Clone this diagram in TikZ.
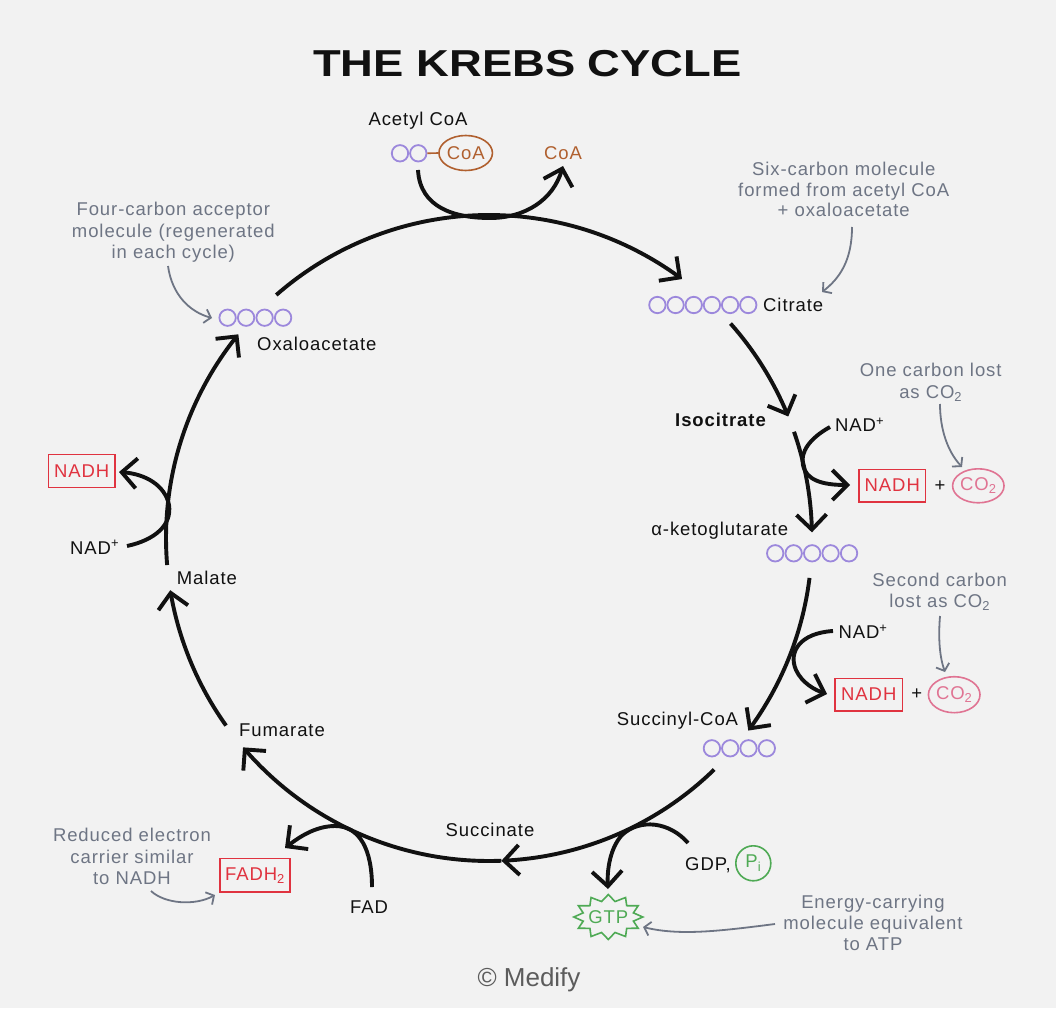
\documentclass[tikz,border=0pt]{standalone}
\usepackage{graphicx}
\usepackage{fontspec}
\setmainfont{Liberation Sans}[LetterSpace=5]
\newfontfamily\plainfont{Liberation Sans}
\usetikzlibrary{arrows.meta,shapes.geometric}
\definecolor{bg}{HTML}{F2F2F2}
\definecolor{ink}{HTML}{111111}
\definecolor{purp}{HTML}{9C88DC}
\definecolor{brownc}{HTML}{B0602F}
\definecolor{redc}{HTML}{E03340}
\definecolor{pinkc}{HTML}{E07493}
\definecolor{greenc}{HTML}{4FAA55}
\definecolor{grayc}{HTML}{6E7584}
\definecolor{copyc}{HTML}{5C5C5C}
\begin{document}
\begin{tikzpicture}[x=1pt,y=-1pt,
 lbl/.style={font=\fontsize{18.5}{21}\selectfont, text=ink, inner sep=0pt, anchor=base},
 glbl/.style={lbl, text=grayc},
 mol/.style={circle, draw=purp, line width=1.8pt, minimum size=16.4pt, inner sep=0pt},
 cyc/.style={draw=ink, line width=3.9pt, -{Straight Barb[length=15pt,width=30pt]}},
 garr/.style={draw=grayc, line width=1.8pt, -{Straight Barb[length=6pt,width=14pt]}},
 nbox/.style={rectangle, draw=redc, line width=1.6pt, text=redc, font=\fontsize{18.5}{21}\selectfont, inner sep=0pt, minimum height=32.4pt},
 co2/.style={ellipse, draw=pinkc, line width=1.6pt, text=pinkc, font=\fontsize{18.5}{21}\selectfont, inner sep=0pt, minimum width=50pt, minimum height=34pt}
]
\fill[bg] (0,0) rectangle (1056,1008);
\path[use as bounding box] (0,0) rectangle (1056,1008);

% title
\node[font=\plainfont\bfseries\fontsize{37.5}{40}\selectfont, text=ink, inner sep=0pt, anchor=base] (title) at (527.5,76.7) {\scalebox{1.21}[1]{THE KREBS CYCLE}};

% main cycle arcs (centre 489,538 radius 323)
\draw[cyc] plot[domain=-131.2:-53.3, samples=80] ({489+323*cos(\x)},{538+323*sin(\x)});
\draw[cyc] plot[domain=-41.6:-22.1, samples=30] ({489+323*cos(\x)},{538+323*sin(\x)});
\draw[cyc] plot[domain=-19.2:-1.0, samples=30] ({489+323*cos(\x)},{538+323*sin(\x)});
\draw[cyc] plot[domain=7.1:36.6, samples=40] ({489+323*cos(\x)},{538+323*sin(\x)});
\draw[cyc] plot[domain=45.8:87.8, samples=50] ({489+323*cos(\x)},{538+323*sin(\x)});
\draw[cyc] plot[domain=87.8:139.6, samples=60] ({489+323*cos(\x)},{538+323*sin(\x)});
\draw[cyc] plot[domain=144.5:170.7, samples=40] ({489+323*cos(\x)},{538+323*sin(\x)});
\draw[cyc] plot[domain=175.2:219.1, samples=50] ({489+323*cos(\x)},{538+323*sin(\x)});

% molecules
\foreach \i in {0,1} \node[mol] (ac\i) at ({400+18.3*\i},153.3) {};
\foreach \i in {0,...,5} \node[mol] (cit\i) at ({657.4+18.17*\i},305) {};
\foreach \i in {0,...,3} \node[mol] (oxa\i) at ({227.6+18.5*\i},317.7) {};
\foreach \i in {0,...,4} \node[mol] (akg\i) at ({775.2+18.46*\i},553.3) {};
\foreach \i in {0,...,3} \node[mol] (suc\i) at ({711.9+18.3*\i},748.3) {};

% acetyl CoA
\node[lbl] (acetyl) at (418,126) {Acetyl CoA};
\node[ellipse, draw=brownc, line width=1.6pt, text=brownc, font=\fontsize{18.5}{21}\selectfont, inner sep=0pt, minimum width=50pt, minimum height=35pt] (coa) at (465.7,153) {CoA};
\draw[brownc, line width=1.6pt] (ac1.east) -- (coa.west);
\node[lbl, text=brownc] (coaout) at (563,160) {CoA};
\draw[cyc] (418,170) .. controls (420,208) and (455,218) .. (490,218) .. controls (525,218) and (553,200) .. (563,166);

% labels on cycle
\node[lbl, anchor=base west] (citrate) at (763,311.7) {Citrate};
\node[lbl, anchor=base west] (oxal) at (257,350) {Oxaloacetate};
\node[lbl, anchor=base east, font=\fontsize{18.5}{21}\selectfont\bfseries] (isocit) at (766,426.7) {Isocitrate};
\node[lbl, anchor=base east] (akgl) at (788.3,535) {α-ketoglutarate};
\node[lbl, anchor=base east] (succoa) at (738.3,725) {Succinyl-CoA};
\node[lbl] (succinate) at (490,836) {Succinate};
\node[lbl, anchor=base west] (fumarate) at (239,736.7) {Fumarate};
\node[lbl, anchor=base west] (malate) at (176.7,584) {Malate};

% isocitrate -> NADH + CO2
\node[lbl, anchor=base west] (nad1) at (835,431.7) {NAD\textsuperscript{+}};
\node[nbox, minimum width=66.7pt] (nadh1) at (892.3,485.5) {NADH};
\node[lbl, anchor=center] (plus1) at (940,486) {+};
\node[co2] (co21) at (978.3,485.8) {CO\textsubscript{2}};
\draw[cyc] (830,427) .. controls (810,438) and (800,452) .. (803,465) .. controls (806,480) and (822,485) .. (850,485);
\node[glbl] (oc1) at (930.7,376.7) {One carbon lost};
\node[glbl] (oc2) at (930.7,398.3) {as CO\textsubscript{2}};
\draw[garr] (940,404) .. controls (940,430) and (948,452) .. (962,467);

% alpha-ketoglutarate -> NADH + CO2
\node[lbl, anchor=base west] (nad2) at (838.3,638.3) {NAD\textsuperscript{+}};
\node[nbox, minimum width=67.7pt] (nadh2) at (868.8,694.5) {NADH};
\node[lbl, anchor=center] (plus2) at (916.7,694) {+};
\node[co2, minimum width=51.6pt, minimum height=36pt] (co22) at (954.2,694.7) {CO\textsubscript{2}};
\draw[cyc] (833,631) .. controls (800,633) and (788,652) .. (796,670) .. controls (802,683) and (815,690) .. (827,694);
\node[glbl] (sc1) at (939.7,586.7) {Second carbon};
\node[glbl] (sc2) at (939.7,607.3) {lost as CO\textsubscript{2}};
\draw[garr] (940,616) .. controls (938,640) and (940,658) .. (945,672);

% annotations top
\node[glbl] (six1) at (843.7,175.7) {Six-carbon molecule};
\node[glbl] (six2) at (843.7,196.3) {formed from acetyl CoA};
\node[glbl] (six3) at (843.7,217) {+ oxaloacetate};
\draw[garr] (852,227) .. controls (852,260) and (840,278) .. (822,292);
\node[glbl] (four1) at (173.3,216) {Four-carbon acceptor};
\node[glbl] (four2) at (173.3,237.3) {molecule (regenerated};
\node[glbl] (four3) at (173.3,258.7) {in each cycle)};
\draw[garr] (168,266) .. controls (172,295) and (190,312) .. (212,318);

% malate -> NADH
\node[nbox, minimum width=66.7pt, minimum height=33pt] (nadh3) at (81.7,470.8) {NADH};
\node[lbl, anchor=base west] (nad3) at (70,554) {NAD\textsuperscript{+}};
\draw[cyc] (127,546) .. controls (155,540) and (172,525) .. (169,505) .. controls (165,485) and (145,474) .. (119,472);

% succinate -> fumarate: FAD
\node[nbox, minimum width=70pt, minimum height=33.3pt] (fadh) at (255,875.3) {FADH\textsubscript{2}};
\node[lbl] (fad) at (369,913.3) {FAD};
\draw[cyc] (372,887) .. controls (372,850) and (360,826) .. (335,826) .. controls (315,826) and (298,838) .. (285,848);
\node[glbl] (re1) at (132,841.7) {Reduced electron};
\node[glbl] (re2) at (132,863.3) {carrier similar};
\node[glbl] (re3) at (132,884) {to NADH};
\draw[garr] (151,891) .. controls (165,904) and (195,906) .. (215,895);

% succinyl-CoA -> succinate: GTP
\node[lbl, anchor=base west] (gdp) at (685,870) {GDP,};
\node[circle, draw=greenc, line width=1.6pt, text=greenc, font=\fontsize{18.5}{21}\selectfont, inner sep=0pt, minimum size=35pt] (pi) at (753.3,863.3) {P\textsubscript{i}};
\draw[cyc] (688,843) .. controls (670,822) and (640,818) .. (622,835) .. controls (610,848) and (607,870) .. (608,889);
\draw[greenc, line width=1.6pt, line join=miter] plot[samples at={0,...,23}] ({608.3+(mod(\x,2)==0 ? 34.5 : 26)*cos(15*\x)},{917+(mod(\x,2)==0 ? 22.5 : 16)*sin(15*\x)}) -- cycle;
\node[lbl, anchor=center, text=greenc] (gtp) at (608.3,917) {GTP};
\node[glbl] (en1) at (873,908.3) {Energy-carrying};
\node[glbl] (en2) at (873,929.3) {molecule equivalent};
\node[glbl] (en3) at (873,950) {to ATP};
\draw[garr] (775,924) .. controls (720,931) and (680,936) .. (643,927);

% credit
\node[font=\plainfont\fontsize{26}{30}\selectfont, text=copyc, inner sep=0pt, anchor=base] (credit) at (529,986.7) {© Medify};
\end{tikzpicture}
\end{document}
